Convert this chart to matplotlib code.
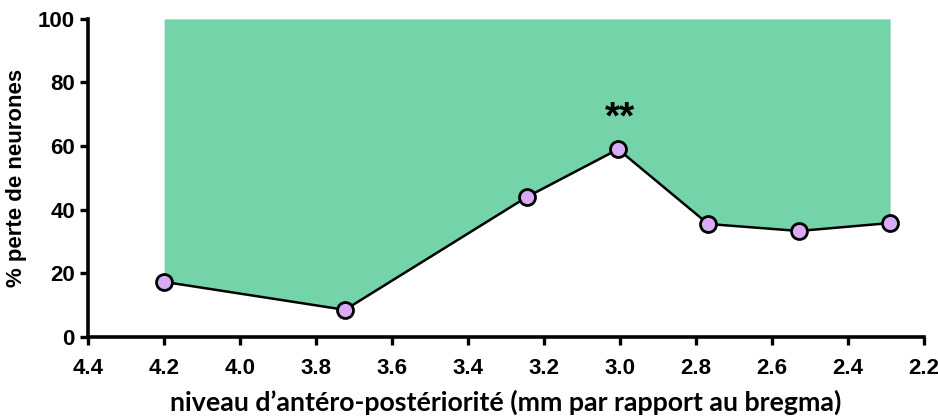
import matplotlib
matplotlib.use("Agg")
import matplotlib.pyplot as plt

x_pos = [4.2, 3.724, 3.245, 3.005, 2.768, 2.529, 2.289]
loss = [17.3, 8.5, 44.0, 59.0, 35.5, 33.3, 35.8]
xticks = [4.4, 4.2, 4.0, 3.8, 3.6, 3.4, 3.2, 3.0, 2.8, 2.6, 2.4, 2.2]
yticks = [0, 20, 40, 60, 80, 100]

plt.rcParams['font.family'] = ['Liberation Sans', 'DejaVu Sans']
plt.rcParams['font.weight'] = 'bold'

fig = plt.figure(figsize=(9.38, 4.19), dpi=100)
ax = fig.add_axes([0.094, 0.196, 0.891, 0.759])

ax.fill_between(x_pos, loss, 100, color='#74D3A8', linewidth=0, zorder=1)
ax.plot(x_pos, loss, color='black', linewidth=1.8, marker='o', markersize=11.5,
        markerfacecolor='#D9AAF5', markeredgecolor='black', markeredgewidth=2, zorder=3)
ax.text(3.0, 63, '**', ha='center', va='bottom', fontsize=28, fontweight='bold')

ax.set_xlim(4.4, 2.2)
ax.set_ylim(0, 100)
ax.set_xticks(xticks)
ax.set_xticklabels([f"{t:.1f}" for t in xticks])
ax.set_yticks(yticks)
ax.tick_params(axis='both', labelsize=16, width=2.4, length=6, direction='out')
ax.tick_params(axis='x', pad=9)
for lbl in ax.get_xticklabels() + ax.get_yticklabels():
    lbl.set_fontweight('bold')
ax.spines['top'].set_visible(False)
ax.spines['right'].set_visible(False)
ax.spines['left'].set_linewidth(2.6)
ax.spines['bottom'].set_linewidth(2.6)
ax.set_xlabel("niveau d\u2019antéro-postériorité (mm par rapport au bregma)", fontsize=19.3,
              fontweight='bold', labelpad=8, family=['Lato', 'DejaVu Sans'])
ax.set_ylabel("% perte de neurones", fontsize=16, fontweight='bold', labelpad=8)

fig.savefig("out.png", dpi=100)
